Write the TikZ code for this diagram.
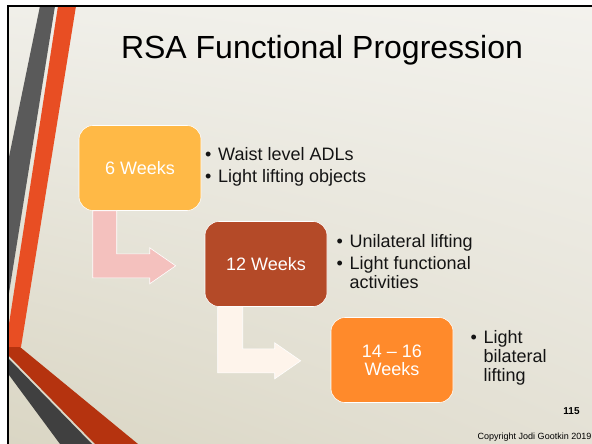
\documentclass[tikz,border=0pt]{standalone}
\usepackage{fontspec}
\setmainfont{Liberation Sans}
\usetikzlibrary{calc,shadings}

\definecolor{sixcol}{HTML}{FFB946}
\definecolor{twelvecol}{HTML}{B44A28}
\definecolor{fourteencol}{HTML}{FF8A2B}
\definecolor{pinkarrow}{HTML}{F4C1BE}
\definecolor{creamarrow}{HTML}{FEF4EB}
\definecolor{stripegray}{HTML}{5A5A5A}
\definecolor{stripered}{HTML}{E84E23}
\definecolor{footred}{HTML}{B5330F}
\definecolor{footgray}{HTML}{404040}
\definecolor{bgul}{RGB}{240,239,233}
\definecolor{bgur}{RGB}{243,242,237}
\definecolor{bgll}{RGB}{218,214,196}
\definecolor{bglr}{RGB}{228,225,213}

\newcommand{\bulletpt}{\makebox[13pt][l]{\textbullet}}

\begin{document}
\begin{tikzpicture}[x=1pt, y=-1pt,
    weekbox/.style={draw=white, line width=0.6pt, rounded corners=14pt,
        minimum width=122pt, minimum height=85pt, text=white, align=center,
        font=\fontsize{18}{18}\selectfont},
    notes/.style={anchor=west, align=left, inner sep=0pt, text=black!92,
        font=\fontsize{18}{19}\selectfont}]
    \useasboundingbox (0,0) rectangle (592,444);
    \fill[white] (0,0) rectangle (592,444);
    % slide background
    \shade[upper left=bgul, upper right=bgur, lower left=bgll, lower right=bglr]
        (9,7) rectangle (592,444);
    % stripes on the left
    \fill[stripegray] (40,6) -- (55,6) -- (9,293) -- (9,157) -- cycle;
    \fill[stripered] (58,6) -- (76,6) -- (21,347) -- (9,347) -- (9,324) -- cycle;
    \fill[footred] (9,347) -- (20,347) -- (138,444) -- (95,444) -- (9,356) -- cycle;
    \fill[footgray] (9,359) -- (92,444) -- (60,444) -- (9,375) -- cycle;
    \draw[line width=2pt] (8,444) -- (8,6) -- (592,6);

    \node (title) at (322,50) {\fontsize{32}{38}\selectfont RSA Functional Progression};

    \node[weekbox, fill=sixcol] (w6) at (140,168) {6 Weeks};
    \node[weekbox, fill=twelvecol] (w12) at (266,264) {12 Weeks};
    \node[weekbox, fill=fourteencol] (w14) at (392,360) {14 -- 16\\Weeks};

    % bent arrows
    \filldraw[fill=pinkarrow, draw=white, line width=0.6pt]
        ($(w6.south west)+(14,0)$) -- ++(24,0) -- ++(0,43) -- ++(33,0) -- ++(0,-6)
        -- ++(26,18) -- ++(-26,18) -- ++(0,-6) -- ++(-57,0) -- cycle;
    \filldraw[fill=creamarrow, draw=white, line width=0.6pt]
        ($(w12.south west)+(13,0)$) -- ++(25,0) -- ++(0,42) -- ++(32,0) -- ++(0,-6)
        -- ++(26,18) -- ++(-26,18) -- ++(0,-6) -- ++(-57,0) -- cycle;

    \node[notes] (n6) at (205,167) {\bulletpt Waist level ADLs\\[3pt]\bulletpt Light lifting objects};
    \node[notes] (n12) at (336.5,261.5) {\bulletpt Unilateral lifting\\[3pt]\bulletpt Light functional\\\hspace*{13pt}activities};
    \node[notes] (n14) at (470.5,358) {\bulletpt Light\\\hspace*{13pt}bilateral\\\hspace*{13pt}lifting};

    \node (page) at (571.5,411.5) {\bfseries\fontsize{10}{12}\selectfont 115};
    \node[anchor=east, inner sep=0pt] (copy) at (591.5,437) {\fontsize{9}{11}\selectfont Copyright Jodi Gootkin 2019};
\end{tikzpicture}
\end{document}
